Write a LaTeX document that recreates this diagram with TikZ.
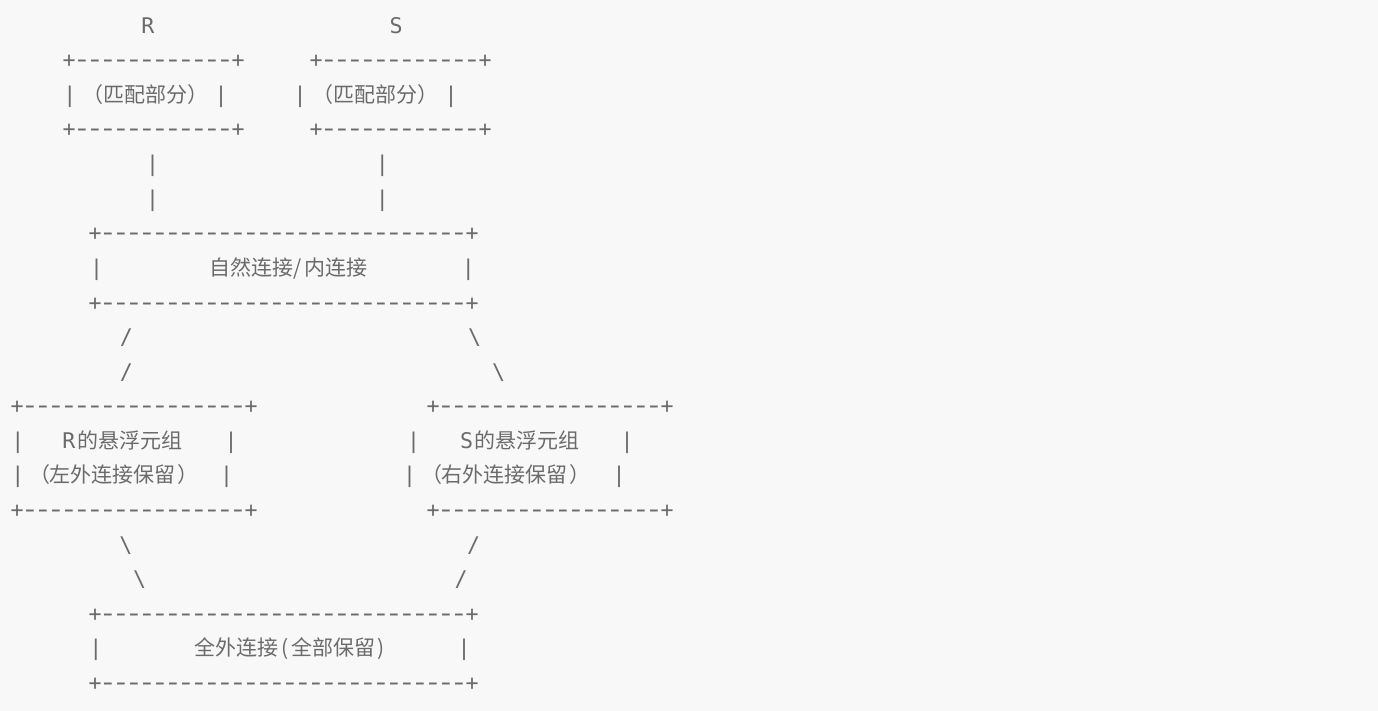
\documentclass[tikz,border=0pt]{standalone}
\usepackage{graphicx}
\usepackage{fontspec}
\newfontfamily\monof{DejaVu Sans Mono}
\newfontfamily\cjkf{Noto Sans CJK SC}
\definecolor{txt}{HTML}{6B6B6B}
\definecolor{bgc}{HTML}{F8F8F8}
\newcommand\dsh[1]{\foreach\k in {1,...,#1}{\makebox[13pt]{\scalebox{1.4}[1.1]{-}}}}
\begin{document}
\begin{tikzpicture}[x=1pt,y=-1pt,
  every node/.style={inner sep=0pt, outer sep=0pt, text=txt},
  mono/.style={font=\monof\fontsize{21.6}{26}\selectfont, anchor=base west},
  monoc/.style={font=\monof\fontsize{21.6}{26}\selectfont, anchor=base},
  cjk/.style={font=\cjkf\fontsize{21}{26}\selectfont, anchor=base west},
  cjke/.style={font=\cjkf\fontsize{21}{26}\selectfont, anchor=base east}]
\fill[bgc] (0,0) rectangle (1378,711);
\useasboundingbox (0,0) rectangle (1378,711);
% row 1
\node[monoc] (lblR) at (148,33.3) {R};
\node[monoc] (lblS) at (396,33.3) {S};
% rows 2-4: match boxes
\node[mono] (rTop) at (62.5,67.9) {+\dsh{12}+};
\node[mono] (sTop) at (309.5,67.9) {+\dsh{12}+};
\node[monoc] (rL) at (70,102.5) {|};
\node[cjke] (rLp) at (103,102.5) {（};
\node[cjk] (rTxt) at (103,102.5) {匹配部分};
\node[cjk] (rRp) at (187,102.5) {）};
\node[monoc] (rR) at (221,102.5) {|};
\node[monoc] (sL) at (300,102.5) {|};
\node[cjke] (sLp) at (333,102.5) {（};
\node[cjk] (sTxt) at (333,102.5) {匹配部分};
\node[cjk] (sRp) at (417,102.5) {）};
\node[monoc] (sR) at (451,102.5) {|};
\node[mono] (rBot) at (62.5,137.0) {+\dsh{12}+};
\node[mono] (sBot) at (309.5,137.0) {+\dsh{12}+};
% rows 5-6: links
\node[monoc] (rV1) at (152.7,171.6) {|};
\node[monoc] (sV1) at (382.3,171.6) {|};
\node[monoc] (rV2) at (152.7,206.2) {|};
\node[monoc] (sV2) at (382.3,206.2) {|};
% rows 7-9: natural join
\node[mono] (jTop) at (88.5,240.8) {+\dsh{28}+};
\node[monoc] (jL) at (96.7,275.4) {|};
\node[cjk] (jTxtA) at (209,275.4) {自然连接/};
\node[cjk] (jTxtB) at (304,275.4) {内连接};
\node[monoc] (jR) at (468.3,275.4) {|};
\node[mono] (jBot) at (88.5,310.0) {+\dsh{28}+};
% rows 10-11
\node[monoc] (dl1) at (126.5,344.5) {/};
\node[monoc] (dr1) at (474.5,344.5) {\textbackslash};
\node[monoc] (dl2) at (126.5,379.1) {/};
\node[monoc] (dr2) at (498.5,379.1) {\textbackslash};
% rows 12-15: dangling tuples
\node[mono] (lTop) at (10.5,413.7) {+\dsh{17}+};
\node[mono] (gTop) at (426.5,413.7) {+\dsh{17}+};
\node[monoc] (lL1) at (18,448.3) {|};
\node[monoc] (lR) at (69,448.3) {R};
\node[cjk] (lTxt1) at (77.5,448.3) {的悬浮元组};
\node[monoc] (lR1) at (231,448.3) {|};
\node[monoc] (gL1) at (413.7,448.3) {|};
\node[monoc] (gS) at (466.5,448.3) {S};
\node[cjk] (gTxt1) at (474.5,448.3) {的悬浮元组};
\node[monoc] (gR1) at (627,448.3) {|};
\node[monoc] (lL2) at (18,482.9) {|};
\node[cjke] (lLp) at (50,482.9) {（};
\node[cjk] (lTxt2) at (49.5,482.9) {左外连接保留};
\node[cjk] (lRp) at (177,482.9) {）};
\node[monoc] (lR2) at (226.6,482.9) {|};
\node[monoc] (gL2) at (409.7,482.9) {|};
\node[cjke] (gLp) at (442,482.9) {（};
\node[cjk] (gTxt2) at (441.5,482.9) {右外连接保留};
\node[cjk] (gRp) at (569,482.9) {）};
\node[monoc] (gR2) at (619,482.9) {|};
\node[mono] (lBot) at (10.5,517.4) {+\dsh{17}+};
\node[mono] (gBot) at (426.5,517.4) {+\dsh{17}+};
% rows 16-17
\node[monoc] (ul1) at (126,552.0) {\textbackslash};
\node[monoc] (ur1) at (473.5,552.0) {/};
\node[monoc] (ul2) at (139.5,586.6) {\textbackslash};
\node[monoc] (ur2) at (461,586.6) {/};
% rows 18-20: full outer join
\node[mono] (fTop) at (88.5,621.2) {+\dsh{28}+};
\node[monoc] (fL) at (96,655.8) {|};
\node[cjk] (fTxtA) at (194,655.8) {全外连接};
\node[cjk] (fLp) at (281,655.8) {(};
\node[cjk] (fTxtB) at (291,655.8) {全部保留};
\node[cjk] (fRp) at (377,655.8) {)};
\node[monoc] (fR) at (464,655.8) {|};
\node[mono] (fBot) at (88.5,690.4) {+\dsh{28}+};
\end{tikzpicture}
\end{document}
